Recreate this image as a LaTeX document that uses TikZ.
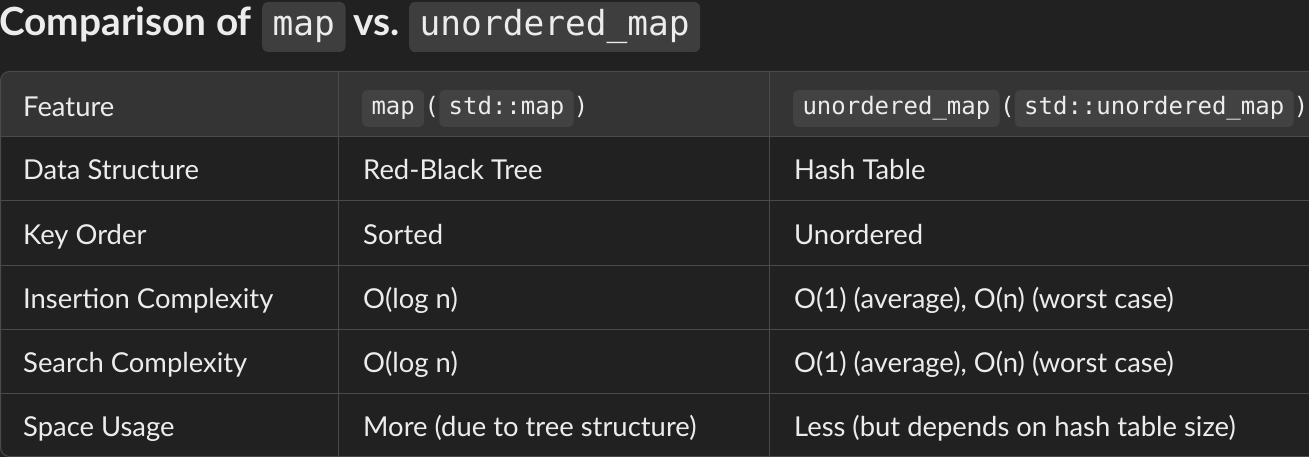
\documentclass[tikz,border=0pt]{standalone}
\usepackage{fontspec}
\setmainfont{Lato}
\setmonofont{DejaVu Sans Mono}
\definecolor{bg}{HTML}{212121}
\definecolor{headbg}{HTML}{343434}
\definecolor{rulec}{HTML}{4A4A4A}
\definecolor{codebg}{HTML}{3E3E3E}
\definecolor{codebgh}{HTML}{424242}
\definecolor{fg}{HTML}{ECECEC}
\begin{document}
\begin{tikzpicture}[x=1pt,y=-1pt,
  cell/.style={anchor=base west, inner sep=0pt, text=fg, font=\fontsize{27.4}{31}\selectfont},
  titletext/.style={anchor=base west, inner sep=0pt, text=fg, font=\bfseries\fontsize{38.8}{45}\selectfont},
  titlecode/.style={anchor=base west, fill=codebg, rounded corners=6pt, text=fg,
    font=\ttfamily\fontsize{34.5}{40}\selectfont, inner xsep=10.5pt, inner ysep=0pt,
    text height=34pt, text depth=16pt},
  hcode/.style={anchor=base west, fill=codebgh, rounded corners=5pt, text=fg,
    font=\ttfamily\fontsize{24}{28}\selectfont, inner xsep=9.3pt, inner ysep=0pt,
    text height=25pt, text depth=12pt},
  hparen/.style={anchor=base west, inner sep=0pt, text=fg, font=\ttfamily\fontsize{24}{28}\selectfont},
  gridline/.style={draw=rulec, line width=1pt}
]
\useasboundingbox (0,0) rectangle (1309,457);
\fill[bg] (0,0) rectangle (1309,457);

% title
\node[titletext] (t1) at (-1,36) {Comparison of};
\node[titlecode] (t2) at (262,36) {map};
\node[titletext] (t3) at (353,36) {vs.};
\node[titlecode] (t4) at (409,36) {unordered\_map};

% table body
\begin{scope}
  \clip[rounded corners=9pt] (0.5,71.5) rectangle (1330,456.5);
  \fill[bg] (0,71) rectangle (1330,457);
  \fill[headbg] (0,71) rectangle (1330,137);
\end{scope}
\foreach \yy in {137,201,265,329,393} \draw[gridline] (0.5,\yy) -- (1330,\yy);
\foreach \xx in {338.5,769} \draw[gridline] (\xx,71.5) -- (\xx,456.5);
\draw[gridline, rounded corners=9pt] (0.5,71.5) rectangle (1330,456.5);

% header
\node[cell] (h1) at (23,117) {Feature};
\node[hcode] (h2a) at (362,115) {map};
\node[hparen] (h2b) at (h2a.base east) {(};
\node[hcode] (h2c) at (h2b.base east) {std::map};
\node[hparen] (h2d) at (h2c.base east) {)};
\node[hcode] (h3a) at (793,115) {unordered\_map};
\node[hparen] (h3b) at (h3a.base east) {(};
\node[hcode] (h3c) at (h3b.base east) {std::unordered\_map};
\node[hparen] (h3d) at (h3c.base east) {)};

% rows
\node[cell] (r1a) at (23,180) {Data Structure};
\node[cell] (r1b) at (363,180) {Red-Black Tree};
\node[cell] (r1c) at (794,180) {Hash Table};

\node[cell] (r2a) at (23,244) {Key Order};
\node[cell] (r2b) at (363,244) {Sorted};
\node[cell] (r2c) at (794,244) {Unordered};

\node[cell] (r3a) at (23,308) {Insertion Complexity};
\node[cell] (r3b) at (363,308) {O(log n)};
\node[cell] (r3c) at (794,308) {O(1) (average), O(n) (worst case)};

\node[cell] (r4a) at (23,372) {Search Complexity};
\node[cell] (r4b) at (363,372) {O(log n)};
\node[cell] (r4c) at (794,372) {O(1) (average), O(n) (worst case)};

\node[cell] (r5a) at (23,436) {Space Usage};
\node[cell] (r5b) at (363,436) {More (due to tree structure)};
\node[cell] (r5c) at (794,436) {Less (but depends on hash table size)};
\end{tikzpicture}
\end{document}
